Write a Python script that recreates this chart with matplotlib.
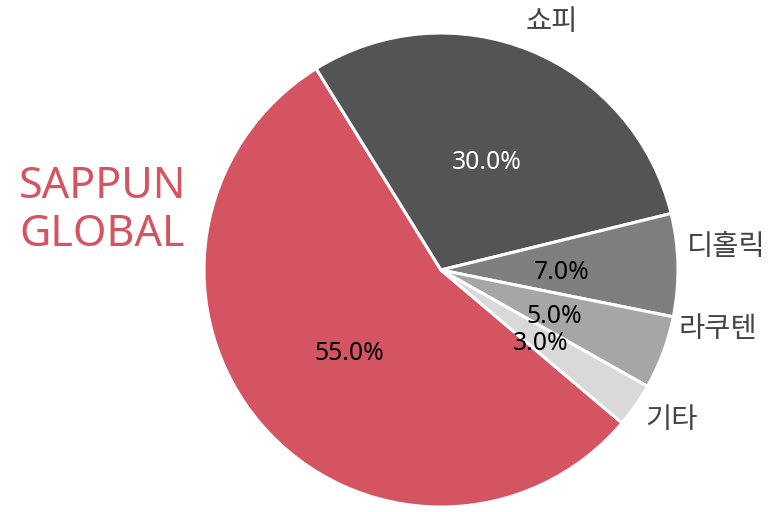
import matplotlib.pyplot as plt

plt.rcParams['font.family'] = ['Noto Sans', 'Noto Sans CJK KR', 'DejaVu Sans']

# -------------------------------
# Data
# -------------------------------
labels = ['SAPPUN\nGLOBAL', '쇼피', '디홀릭', '라쿠텐', '기타']
shares = [55, 30, 7, 5, 3]
colors = ['#D45461', '#545456', '#7F7F7F', '#A6A6A6', '#D9D9D9']
pct_colors = ['black', 'white', 'black', 'black', 'black']

# label anchors (left edge, vertical centre) in pie-radius units
label_pos = [None, (0.355, 1.046), (1.038, 0.093), (1.004, -0.249), (0.861, -0.633)]

# -------------------------------
# Figure
# -------------------------------
fig = plt.figure(figsize=(7.68, 5.12), dpi=100)
ax = fig.add_axes([(441 - 237) / 768, (242 - 237) / 512, 474 / 768, 474 / 512])

wedges, texts, autotexts = ax.pie(
    shares,
    labels=[''] + labels[1:],
    colors=colors,
    startangle=319.8,
    counterclock=False,
    autopct='%1.1f%%',
    pctdistance=0.51,
    wedgeprops=dict(edgecolor='white', linewidth=2.2),
    textprops=dict(fontsize=20.5, color='#444444'),
)

for t, pos in zip(texts, label_pos):
    if pos is not None:
        t.set_position(pos)
        t.set_ha('left')
        t.set_va('center')

for t, c in zip(autotexts, pct_colors):
    t.set_color(c)
    t.set_fontsize(17.8)
    x, y = t.get_position()
    t.set_position((x, y - 0.02))

ax.set_xlim(-1, 1)
ax.set_ylim(-1, 1)
ax.set_aspect('equal')

# big label for the main slice
fig.text(102 / 768, 1 - 211 / 512, labels[0], color=colors[0], fontsize=31,
         ha='center', va='center', linespacing=1.12)

fig.savefig('out.png', dpi=100)
